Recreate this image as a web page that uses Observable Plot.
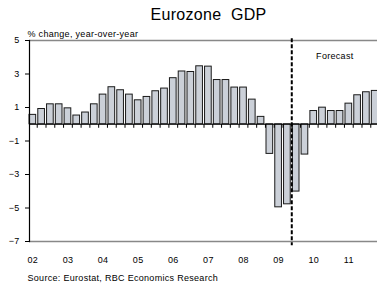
<!DOCTYPE html>
<html>
<head>
<meta charset="utf-8">
<script src="https://cdn.jsdelivr.net/npm/d3@7"></script>
<script src="https://cdn.jsdelivr.net/npm/@observablehq/plot@0.6"></script>
<style>
  html, body { margin: 0; padding: 0; background: #fff; }
  #chart svg { display: block; font-family: "Liberation Sans", Arial, sans-serif; }
  #chart svg text { letter-spacing: 0.3px; }
</style>
</head>
<body>
<div id="chart"></div>
<script>
// ---- data ----
const years = ["2002","2003","2004","2005","2006","2007","2008","2009","2010","2011"];
const quarterNames = ["Q1","Q2","Q3","Q4"];
const quarters = years.flatMap(y => quarterNames.map(q => y + q));
const gdpGrowth = [
  0.56, 0.91, 1.19, 1.19,
  0.95, 0.52, 0.70, 1.19,
  1.77, 2.21, 2.03, 1.77,
  1.43, 1.63, 1.97, 2.13,
  2.75, 3.15, 3.12, 3.46,
  3.44, 2.64, 2.64, 2.19,
  2.19, 1.47, 0.44, -1.77,
  -4.96, -4.78, -4.02, -1.81,
  0.79, 0.99, 0.79, 0.79,
  1.23, 1.73, 1.91, 1.99
];
const yearLabels = ["02","03","04","05","06","07","08","09","10","11"];
const yTicks = [5, 3, 1, -1, -3, -5, -7];
const forecastAfter = "2009Q2";
const titleText = "Eurozone  GDP";
const subtitleText = "% change, year-over-year";
const forecastText = "Forecast";
const sourceText = "Source: Eurostat, RBC Economics Research";

const data = quarters.map((q, i) => ({quarter: q, value: gdpGrowth[i]}));
const q1s = years.map(y => y + "Q1");
const labelOf = new Map(q1s.map((q, i) => [q, yearLabels[i]]));

const step = (378 - 29) / (40 - 0.24);

const chart = Plot.plot({
  width: 377,
  height: 283,
  marginTop: 40,
  marginBottom: 42,
  marginLeft: 29,
  marginRight: 0,
  style: {fontFamily: "Liberation Sans, Arial, sans-serif", fontSize: "9px", color: "#000", background: "#fff"},
  x: {type: "band", domain: quarters, range: [29, 378], paddingInner: 0.24, paddingOuter: 0, align: 0, label: null},
  y: {domain: [-7, 5], label: null},
  marks: [
    Plot.ruleY([5], {stroke: "#888", strokeWidth: 1.5}),
    Plot.ruleY([-7], {stroke: "#888", strokeWidth: 1.5}),
    Plot.barY(data, {x: "quarter", y: "value", fill: "#cbd0d8", stroke: "#1a1a1a", strokeWidth: 1, inset: 0}),
    Plot.ruleY([0], {stroke: "#000", strokeWidth: 1.2}),
    Plot.ruleX(quarters, {x: d => d, y1: 0, y2: -0.24, dx: step / 2, stroke: "#000", strokeWidth: 1}),
    Plot.ruleX([forecastAfter], {x: d => d, y1: 5.1, y2: -7.25, dx: step / 2, stroke: "#000", strokeWidth: 2, strokeDasharray: "4,2"}),
    Plot.frame({anchor: "left", stroke: "#000", strokeWidth: 1.2}),
    Plot.axisY({ticks: yTicks, tickSize: 4, tickPadding: 6, fontSize: 9, stroke: "#000", label: null}),
    Plot.axisX({ticks: q1s, tickFormat: d => labelOf.get(d), tickSize: 0, tickPadding: 15, fontSize: 9, label: null}),
    Plot.text([titleText], {frameAnchor: "top", dx: 5, dy: -26, lineAnchor: "middle", fontSize: 16, text: d => d}),
    Plot.text([subtitleText], {frameAnchor: "top-left", dx: -2, dy: -4, lineAnchor: "bottom", textAnchor: "start", fontSize: 9, text: d => d}),
    Plot.text([forecastText], {frameAnchor: "top-right", dx: -24, dy: 16, lineAnchor: "middle", textAnchor: "end", fontSize: 9, text: d => d}),
    Plot.text([sourceText], {frameAnchor: "bottom-left", dx: -2, dy: 37, lineAnchor: "middle", textAnchor: "start", fontSize: 9, text: d => d})
  ]
});
document.getElementById("chart").appendChild(chart);
</script>
</body>
</html>
